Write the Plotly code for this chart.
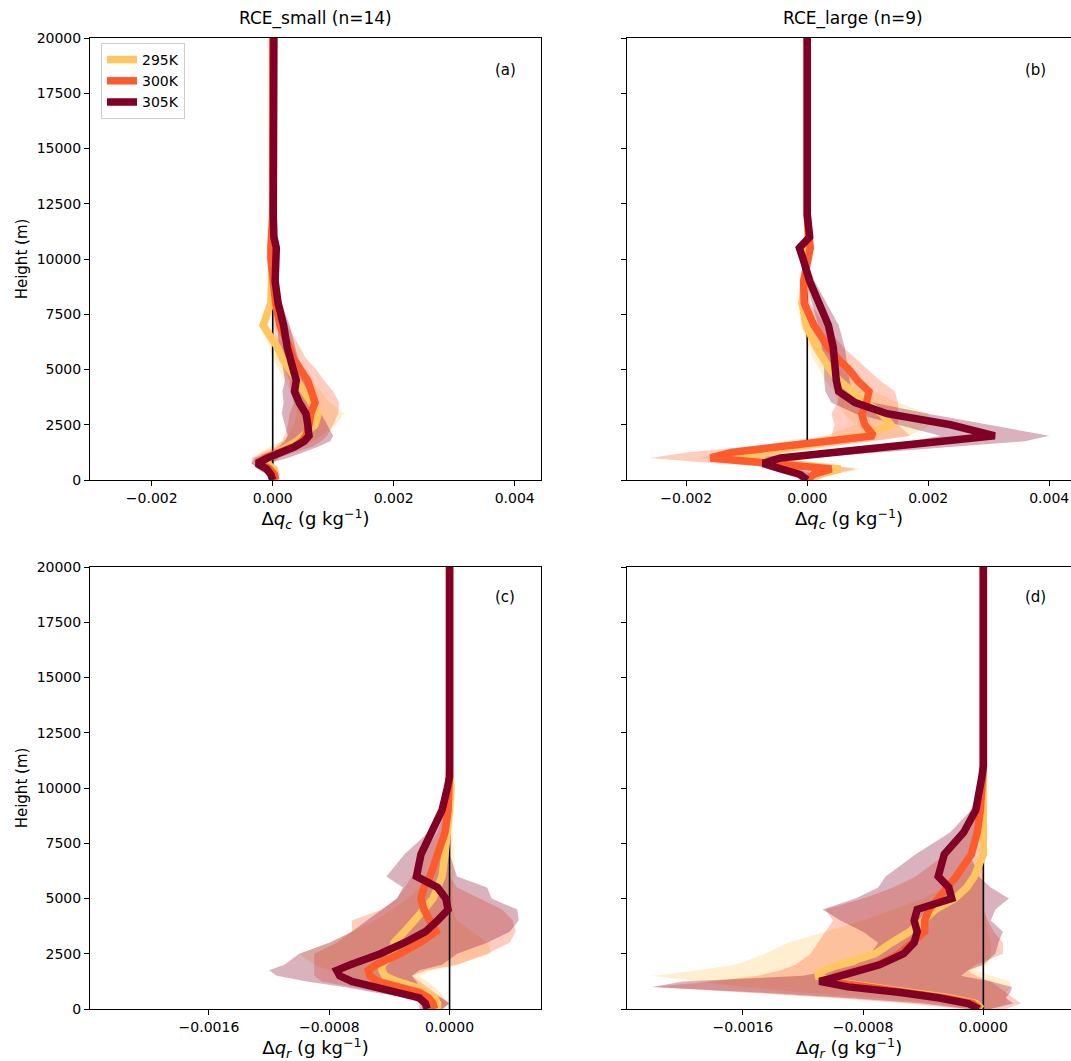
import plotly.graph_objects as go

# ---------------- data ----------------
# heights (m)
Z = [0, 250, 500, 750, 1000, 1250, 1500, 1750, 2000, 2500, 3000, 3500, 4000,
     4500, 5000, 5500, 6000, 7000, 8000, 9000, 10000, 10500, 11000, 12000, 20000]

# all anomaly values below are given in units of 1e-4 g/kg
UNIT = 1e-4
TEMPS = ["295K", "300K", "305K"]

# ---- panel (a): delta q_c, RCE_small ----
a295 = [0.3, 0.4, 0.2, -1.0, -0.8, 0.8, 2.5, 4.0, 5.0, 7.0, 7.5, 6.2, 5.2, 4.0, 2.8, 1.6, 0.8, -1.6, -0.3, -0.1, 0.0, 0.0, 0.0, 0.0, 0.0]
a300 = [0.5, 0.3, -0.5, -2.0, -1.3, 1.0, 3.5, 4.8, 5.5, 6.0, 6.3, 7.0, 6.4, 5.8, 4.6, 3.4, 2.8, 1.2, 0.5, 0.0, -0.3, -0.3, -0.2, 0.0, 0.0]
a305 = [0.0, -0.3, -1.0, -2.6, -0.8, 1.5, 3.6, 5.2, 6.0, 5.8, 5.5, 4.4, 3.6, 3.9, 3.4, 2.8, 2.4, 1.8, 0.9, 0.4, 0.5, 0.6, 0.2, 0.1, 0.2]
a295_lo = [-0.3, -0.5, -1.0, -2.5, -2.8, -2.2, -0.5, 1.5, 2.5, 3.5, 4.0, 3.5, 3.0, 2.0, 1.0, 0.0, -0.5, -2.2, -0.8, -0.3, -0.1, -0.1, -0.1, 0.0, 0.0]
a295_hi = [0.8, 1.0, 1.0, 0.2, 1.0, 3.0, 5.0, 6.5, 8.0, 10.5, 11.8, 9.5, 8.0, 6.5, 5.0, 3.5, 2.2, -0.8, 0.2, 0.1, 0.1, 0.1, 0.1, 0.0, 0.0]
a300_lo = [-0.3, -0.8, -2.0, -3.5, -3.5, -1.5, 0.5, 1.5, 2.0, 2.5, 2.8, 3.5, 3.0, 2.8, 2.0, 1.2, 0.8, 0.0, -0.2, -0.4, -0.6, -0.5, -0.4, -0.1, 0.0]
a300_hi = [1.0, 1.2, 0.8, 0.0, 1.0, 3.5, 6.5, 8.0, 9.0, 10.0, 10.8, 11.0, 10.0, 8.5, 7.2, 5.5, 4.5, 2.5, 1.2, 0.4, 0.0, 0.0, 0.0, 0.1, 0.0]
a305_lo = [-0.5, -1.0, -2.5, -3.5, -3.0, -0.5, 1.0, 2.0, 2.5, 2.0, 1.5, 1.8, 1.6, 2.0, 1.8, 1.5, 1.0, 0.8, 0.3, 0.1, 0.3, 0.4, 0.1, 0.0, 0.0]
a305_hi = [0.5, 0.6, 0.5, -1.0, 2.5, 5.0, 7.5, 9.5, 10.0, 9.0, 8.0, 7.0, 6.0, 5.8, 5.2, 4.2, 3.8, 2.8, 1.5, 0.7, 0.7, 0.8, 0.3, 0.2, 0.2]
a_zero = [0, 20000]

# ---- panel (b): delta q_c, RCE_large ----
b295 = [0.0, 2.0, 5.5, -4.0, -12.0, -8.0, -2.0, 2.5, 9.5, 13.8, 12.3, 9.8, 7.5, 5.3, 3.8, 2.6, 1.5, -0.2, -0.8, -0.3, 0.0, 0.2, 0.1, 0.0, 0.0]
b300 = [0.0, 1.0, 4.0, -8.0, -16.0, -12.5, -4.0, 4.5, 11.0, 9.5, 9.0, 9.8, 10.2, 8.3, 6.9, 5.0, 3.5, 1.1, -0.5, -0.6, 0.0, 0.5, 0.3, 0.0, 0.0]
b305 = [0.0, -1.2, -4.4, -7.3, -4.4, 5.1, 14.6, 24.1, 31.0, 23.7, 13.2, 7.9, 5.2, 4.8, 4.6, 4.5, 4.3, 3.5, 2.0, 0.4, -0.7, -1.3, 0.4, 0.0, 0.0]
b295_lo = [-1.0, -0.5, 2.0, -10.0, -18.0, -14.0, -8.0, -4.0, 3.0, 8.0, 6.0, 5.0, 4.5, 3.0, 2.0, 1.0, 0.2, -1.0, -1.5, -0.7, -0.2, 0.0, 0.0, 0.0, 0.0]
b295_hi = [1.0, 4.5, 9.0, 2.0, -6.0, -2.0, 4.0, 10.0, 17.0, 20.5, 20.0, 15.0, 11.0, 8.0, 6.0, 4.5, 3.0, 0.8, -0.1, 0.1, 0.2, 0.3, 0.2, 0.0, 0.0]
b300_lo = [-1.5, -1.5, 0.0, -15.0, -26.0, -20.0, -10.0, -2.0, 4.0, 4.5, 4.0, 5.0, 5.5, 4.5, 3.5, 2.2, 1.2, -0.5, -1.5, -1.2, -0.5, 0.0, 0.0, 0.0, 0.0]
b300_hi = [1.5, 4.0, 8.0, 2.0, -6.0, -4.0, 3.0, 11.0, 17.0, 15.0, 15.0, 15.0, 14.5, 12.0, 10.0, 8.0, 6.0, 3.0, 0.5, 0.0, 0.5, 1.0, 0.6, 0.1, 0.0]
b305_lo = [-0.5, -3.0, -6.5, -9.5, -8.5, -1.0, 8.0, 17.0, 22.0, 15.0, 8.0, 4.0, 3.0, 2.8, 2.8, 2.6, 2.4, 1.8, 0.8, -0.3, -1.2, -1.8, 0.0, 0.0, 0.0]
b305_hi = [0.5, 1.0, -1.0, -4.0, 0.0, 12.0, 24.0, 36.0, 40.0, 30.0, 20.0, 11.0, 7.5, 7.0, 6.8, 6.5, 6.2, 5.2, 3.2, 1.2, -0.2, -0.8, 0.8, 0.1, 0.0]
b_zero = [1700, 20000]

# ---- panel (c): delta q_r, RCE_small ----
c295 = [-0.8, -0.8, -1.0, -1.6, -2.3, -3.5, -4.3, -4.5, -4.5, -3.7, -3.7, -3.0, -2.3, -1.7, -1.1, -0.8, -0.5, -0.3, -0.1, 0.0, 0.1, 0.0, 0.0, 0.0, 0.0]
c300 = [-1.0, -1.1, -1.4, -2.0, -3.4, -4.8, -5.3, -5.4, -4.9, -3.3, -2.0, -0.9, -1.3, -1.7, -1.9, -1.7, -1.3, -0.8, -0.3, -0.1, 0.0, 0.0, 0.0, 0.0, 0.0]
c305 = [-1.5, -1.6, -2.0, -3.6, -5.0, -6.5, -7.3, -7.5, -6.6, -4.6, -3.0, -1.6, -0.8, -0.1, -0.25, -0.8, -2.2, -1.9, -1.2, -0.5, -0.15, 0.0, 0.0, 0.0, 0.0]
c295_lo = [-1.2, -1.3, -1.8, -3.5, -5.0, -6.5, -7.5, -8.0, -9.0, -10.0, -8.0, -6.5, -5.0, -3.8, -2.8, -2.0, -1.4, -0.8, -0.4, -0.1, 0.0, 0.0, 0.0, 0.0, 0.0]
c295_hi = [-0.3, -0.2, -0.3, -0.6, -1.0, -1.5, -2.0, -1.2, 0.5, 2.8, 2.5, 1.5, 0.5, 0.2, 0.2, 0.2, 0.3, 0.3, 0.2, 0.1, 0.1, 0.0, 0.0, 0.0, 0.0]
c300_lo = [-1.5, -1.8, -2.5, -4.5, -6.5, -8.5, -9.0, -9.0, -9.0, -9.0, -7.5, -6.5, -6.5, -4.5, -3.5, -3.0, -2.5, -1.8, -0.8, -0.3, -0.1, 0.0, 0.0, 0.0, 0.0]
c300_hi = [-0.5, 0.0, -0.5, -1.0, -1.5, -2.0, -2.5, -1.5, 0.5, 2.5, 4.0, 4.4, 4.2, 3.5, 2.0, 0.5, 0.0, 0.0, 0.0, 0.0, 0.0, 0.0, 0.0, 0.0, 0.0]
c305_lo = [-2.0, -2.0, -2.6, -5.0, -7.0, -9.5, -11.5, -12.0, -11.0, -10.0, -8.0, -6.5, -5.5, -4.5, -3.5, -3.1, -4.2, -3.0, -1.4, -0.5, -0.2, 0.0, 0.0, 0.0, 0.0]
c305_hi = [-0.5, 0.0, -0.5, -1.5, -2.0, -2.2, -2.5, -2.0, -0.5, 0.5, 2.5, 4.0, 4.6, 4.5, 2.8, 2.5, 0.5, 0.0, -0.1, -0.1, 0.0, 0.0, 0.0, 0.0, 0.0]
c_zero = [0, 20000]

# ---- panel (d): delta q_r, RCE_large ----
d295 = [-0.1, -0.5, -2.2, -4.8, -7.8, -10.0, -11.1, -10.6, -9.6, -7.2, -6.1, -4.9, -4.0, -3.2, -1.9, -1.1, -0.6, 0.0, 0.0, 0.0, 0.0, 0.0, 0.0, 0.0, 0.0]
d300 = [-0.2, -0.7, -2.6, -5.2, -8.3, -10.3, -9.8, -8.3, -7.0, -5.6, -4.7, -3.9, -3.9, -3.6, -3.0, -2.4, -1.8, -0.8, -0.4, -0.2, -0.1, 0.0, 0.0, 0.0, 0.0]
d305 = [-0.3, -1.0, -2.9, -5.5, -9.0, -10.9, -9.5, -8.2, -6.9, -5.3, -4.6, -4.4, -4.6, -4.4, -2.1, -2.3, -3.0, -2.6, -1.3, -0.5, -0.15, -0.1, 0.0, 0.0, 0.0]
d295_lo = [-1.0, -3.0, -7.0, -12.0, -16.0, -19.0, -22.0, -19.0, -16.5, -14.5, -13.0, -10.5, -8.0, -6.0, -4.0, -2.5, -1.5, -0.3, -0.1, 0.0, 0.0, 0.0, 0.0, 0.0, 0.0]
d295_hi = [0.5, 1.5, 1.5, 1.5, 1.8, 1.8, 0.5, -0.5, 0.3, 0.5, 0.5, 0.3, 0.2, 0.1, 0.1, 0.1, 0.1, 0.1, 0.1, 0.0, 0.0, 0.0, 0.0, 0.0, 0.0]
d300_lo = [-1.5, -5.0, -10.0, -16.0, -22.0, -18.0, -15.0, -13.5, -12.5, -11.5, -11.0, -10.5, -10.0, -10.5, -8.0, -6.0, -4.5, -2.5, -1.0, -0.3, -0.1, 0.0, 0.0, 0.0, 0.0]
d300_hi = [1.5, 2.5, 2.0, 1.5, 1.0, 0.5, -0.5, -1.0, -0.5, 1.3, 1.3, 0.7, 0.3, 0.0, 0.0, 0.0, 0.0, 0.0, 0.0, 0.0, 0.0, 0.0, 0.0, 0.0, 0.0]
d305_lo = [-1.0, -4.0, -9.0, -15.0, -22.0, -20.0, -12.0, -10.0, -8.5, -7.5, -7.0, -8.0, -9.5, -10.7, -8.5, -7.0, -6.5, -4.5, -2.2, -0.8, -0.3, -0.2, 0.0, 0.0, 0.0]
d305_hi = [0.5, 2.0, 1.5, 1.8, 1.9, 0.5, -1.5, -1.0, 0.0, 0.8, 1.0, 1.3, 0.5, 0.8, 1.7, 0.5, -0.3, -0.9, -0.5, -0.2, -0.05, 0.0, 0.0, 0.0, 0.0]
d_zero = [0, 20000]

# tick labels
Y_TICKS = [0, 2500, 5000, 7500, 10000, 12500, 15000, 17500, 20000]
Y_TICKTEXT = ["0", "2500", "5000", "7500", "10000", "12500", "15000", "17500", "20000"]
QC_TICKS = [-0.002, 0.0, 0.002, 0.004]
QC_TICKTEXT = ["\u22120.002", "0.000", "0.002", "0.004"]
QR_TICKS = [-0.0016, -0.0008, 0.0]
QR_TICKTEXT = ["\u22120.0016", "\u22120.0008", "0.0000"]

TITLES = ["RCE_small (n=14)", "RCE_large (n=9)"]
PANEL_LABELS = ["(a)", "(b)", "(c)", "(d)"]

# ---------------- style ----------------
LINE_COLORS = {"295K": "#fec660", "300K": "#fc5b2e", "305K": "#800026"}
FILL_COLORS = {"295K": "rgba(254,198,96,0.3)", "300K": "rgba(252,91,46,0.3)",
               "305K": "rgba(128,0,38,0.3)"}
FONT = "DejaVu Sans"
W, H = 1071, 1061

fig = go.Figure()


def add_panel(n, means, los, his, zero_z, legend):
    xa = "x" if n == 1 else f"x{n}"
    ya = "y" if n == 1 else f"y{n}"
    for t in TEMPS:
        lo = [v * UNIT for v in los[t]]
        hi = [v * UNIT for v in his[t]]
        fig.add_trace(go.Scatter(
            x=lo + hi[::-1], y=Z + Z[::-1], fill="toself",
            fillcolor=FILL_COLORS[t], line=dict(width=0), mode="lines",
            hoverinfo="skip", showlegend=False, xaxis=xa, yaxis=ya))
    fig.add_trace(go.Scatter(x=[0, 0], y=zero_z, mode="lines",
                             line=dict(color="black", width=1.6),
                             showlegend=False, xaxis=xa, yaxis=ya))
    for t in TEMPS:
        fig.add_trace(go.Scatter(
            x=[v * UNIT for v in means[t]], y=Z, mode="lines", name=t,
            line=dict(color=LINE_COLORS[t], width=7.5),
            showlegend=legend, xaxis=xa, yaxis=ya))


add_panel(1, {"295K": a295, "300K": a300, "305K": a305},
          {"295K": a295_lo, "300K": a300_lo, "305K": a305_lo},
          {"295K": a295_hi, "300K": a300_hi, "305K": a305_hi}, a_zero, True)
add_panel(2, {"295K": b295, "300K": b300, "305K": b305},
          {"295K": b295_lo, "300K": b300_lo, "305K": b305_lo},
          {"295K": b295_hi, "300K": b300_hi, "305K": b305_hi}, b_zero, False)
add_panel(3, {"295K": c295, "300K": c300, "305K": c305},
          {"295K": c295_lo, "300K": c300_lo, "305K": c305_lo},
          {"295K": c295_hi, "300K": c300_hi, "305K": c305_hi}, c_zero, False)
add_panel(4, {"295K": d295, "300K": d300, "305K": d305},
          {"295K": d295_lo, "300K": d300_lo, "305K": d305_lo},
          {"295K": d295_hi, "300K": d300_hi, "305K": d305_hi}, d_zero, False)

# panel geometry in page pixels
LEFT_X = [90, 541]
RIGHT_X = [627, 1071]
TOP_Y = [38, 480]
BOT_Y = [567, 1009]


def px_x(px):
    return px / W


def px_y(py):
    return 1 - py / H


def xdom(px):
    return [px_x(px[0]), min(1.0, px_x(px[1]))]


def ydom(py):
    return [px_y(py[1]), px_y(py[0])]


axis_common = dict(showgrid=False, zeroline=False, showline=True, linecolor="black",
                   linewidth=1, ticks="outside", ticklen=5, tickwidth=1,
                   tickcolor="black", tickfont=dict(family=FONT, size=14, color="black"),
                   automargin=False, ticklabeloverflow="allow")

qc_title = "\u0394<i>q</i><sub><i>c</i></sub> (g kg<sup>\u22121</sup>)"
qr_title = "\u0394<i>q</i><sub><i>r</i></sub> (g kg<sup>\u22121</sup>)"
xt_font = dict(family=FONT, size=18, color="black")
yt_font = dict(family=FONT, size=15, color="black")

layout = dict(
    width=W, height=H, margin=dict(l=0, r=0, t=0, b=0),
    paper_bgcolor="white", plot_bgcolor="white",
    font=dict(family=FONT, size=14, color="black"),
    xaxis=dict(domain=xdom(LEFT_X), anchor="y", range=[-0.00302, 0.004435],
               tickvals=QC_TICKS, ticktext=QC_TICKTEXT, mirror=True,
               title=dict(text=qc_title, font=xt_font, standoff=6), **axis_common),
    yaxis=dict(domain=ydom(TOP_Y), anchor="x", range=[0, 20000],
               tickvals=Y_TICKS, ticktext=Y_TICKTEXT, mirror=True,
               title=dict(text="Height (m)", font=yt_font, standoff=5), **axis_common),
    xaxis2=dict(domain=xdom(RIGHT_X), anchor="y2", range=[-0.00298, 0.00436],
                tickvals=QC_TICKS, ticktext=QC_TICKTEXT, mirror=True,
                title=dict(text=qc_title, font=xt_font, standoff=6), **axis_common),
    yaxis2=dict(domain=ydom(TOP_Y), anchor="x2", range=[0, 20000],
                tickvals=Y_TICKS, showticklabels=False, mirror=False, **axis_common),
    xaxis3=dict(domain=xdom(LEFT_X), anchor="y3", range=[-0.002391, 0.000608],
                tickvals=QR_TICKS, ticktext=QR_TICKTEXT, mirror=True,
                title=dict(text=qr_title, font=xt_font, standoff=6), **axis_common),
    yaxis3=dict(domain=ydom(BOT_Y), anchor="x3", range=[0, 20000],
                tickvals=Y_TICKS, ticktext=Y_TICKTEXT, mirror=True,
                title=dict(text="Height (m)", font=yt_font, standoff=5), **axis_common),
    xaxis4=dict(domain=xdom(RIGHT_X), anchor="y4", range=[-0.00237, 0.000583],
                tickvals=QR_TICKS, ticktext=QR_TICKTEXT, mirror=True,
                title=dict(text=qr_title, font=xt_font, standoff=6), **axis_common),
    yaxis4=dict(domain=ydom(BOT_Y), anchor="x4", range=[0, 20000],
                tickvals=Y_TICKS, showticklabels=False, mirror=False, **axis_common),
    legend=dict(x=px_x(101), y=px_y(43), xanchor="left", yanchor="top",
                bgcolor="rgba(255,255,255,0.85)", bordercolor="#cccccc", borderwidth=1,
                font=dict(family=FONT, size=14, color="black"), tracegroupgap=0),
    showlegend=True,
)

annotations = [
    dict(text=TITLES[0], x=px_x((LEFT_X[0] + LEFT_X[1]) / 2), y=px_y(18),
         xanchor="center", yanchor="middle", xref="paper", yref="paper", showarrow=False,
         font=dict(family=FONT, size=17, color="black")),
    dict(text=TITLES[1], x=px_x((RIGHT_X[0] + 1078) / 2), y=px_y(18),
         xanchor="center", yanchor="middle", xref="paper", yref="paper", showarrow=False,
         font=dict(family=FONT, size=17, color="black")),
]
label_pos = [(505, 70), (1035, 70), (505, 597), (1035, 597)]
for lab, (px, py) in zip(PANEL_LABELS, label_pos):
    annotations.append(dict(text=lab, x=px_x(px), y=px_y(py), xanchor="center",
                            yanchor="middle", xref="paper", yref="paper",
                            showarrow=False, font=dict(family=FONT, size=15, color="black")))
layout["annotations"] = annotations

fig.update_layout(**layout)
# remove the browser's default 8px body margin so the figure fills the window
fig.write_html("out.html", config={"displayModeBar": False},
               post_script="document.body.style.margin='0px';document.body.style.overflow='hidden';")
